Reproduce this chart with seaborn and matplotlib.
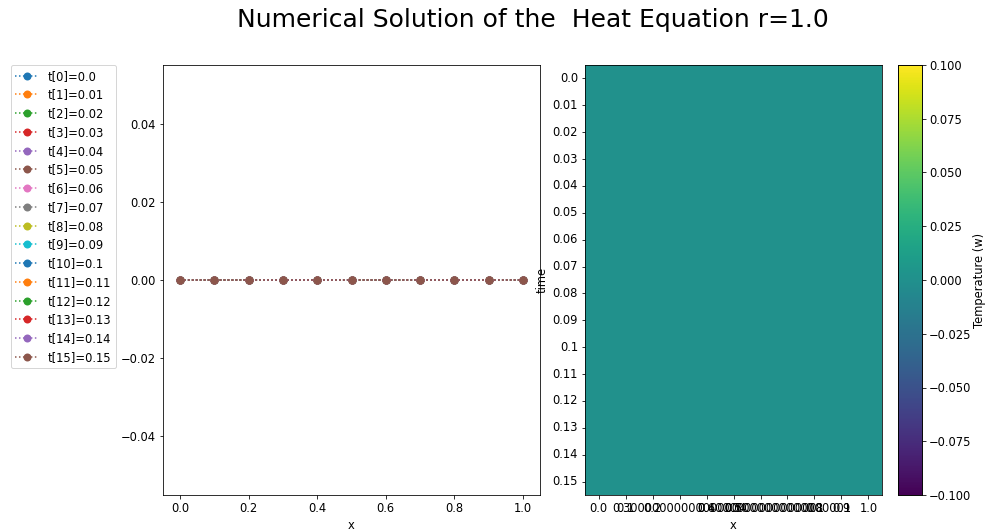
import numpy as np
import pandas as pd
import matplotlib
matplotlib.use("Agg")
import matplotlib.pyplot as plt
import seaborn as sns

# Data
x_vals = [0.0, 0.1, 0.2, 0.30000000000000004, 0.4, 0.5, 0.6000000000000001,
          0.7000000000000001, 0.8, 0.9, 1.0]
t_vals = [0.0, 0.01, 0.02, 0.03, 0.04, 0.05, 0.06, 0.07, 0.08, 0.09, 0.1,
          0.11, 0.12, 0.13, 0.14, 0.15]
# temperature w[t][x] (all zero)
w = [[0.0] * len(x_vals) for _ in t_vals]
r_value = 1.0

FS = 11.5
plt.rcParams['font.family'] = ['DejaVu Sans']
plt.rcParams['font.size'] = FS
fig = plt.figure(figsize=(985 / 72, 531 / 72), dpi=72)

ax1 = fig.add_axes([163 / 985, 1 - 495 / 531, (540 - 163) / 985, (495 - 65) / 531])
ax2 = fig.add_axes([585 / 985, 1 - 495 / 531, (882 - 585) / 985, (495 - 65) / 531])
cax = fig.add_axes([898 / 985, 1 - 495 / 531, 24 / 985, (495 - 65) / 531])

palette = plt.rcParams['axes.prop_cycle'].by_key()['color']
for i, t in enumerate(t_vals):
    sns.lineplot(x=x_vals, y=w[i], ax=ax1, marker='o', linestyle=':',
                 color=palette[i % len(palette)], label=f"t[{i}]={t}",
                 markeredgewidth=0, markersize=8)
ax1.set_xlabel('x', fontsize=FS)
ax1.set_ylim(-0.055, 0.055)
ax1.set_yticks([-0.04, -0.02, 0.0, 0.02, 0.04])
ax1.tick_params(axis='both', labelsize=FS)
ax1.legend(loc='upper right', bbox_to_anchor=(-0.125, 1.0), borderaxespad=0,
           fontsize=FS)

df = pd.DataFrame(w, index=t_vals, columns=x_vals)
sns.heatmap(df, ax=ax2, cmap='viridis', vmin=-0.1, vmax=0.1, cbar_ax=cax,
            xticklabels=[str(v) for v in x_vals],
            yticklabels=[str(v) for v in t_vals],
            cbar_kws={'label': 'Temperature (w)'})
ax2.set_xlabel('x', fontsize=FS)
ax2.set_ylabel('time', fontsize=FS)
ax2.tick_params(axis='both', length=3.5, labelsize=FS)
plt.setp(ax2.get_yticklabels(), rotation=0)
plt.setp(ax2.get_xticklabels(), rotation=0)
for s in ax2.spines.values():
    s.set_visible(True)
    s.set_linewidth(0.8)
cax.set_yticks([-0.1, -0.075, -0.05, -0.025, 0.0, 0.025, 0.05, 0.075, 0.1])
cax.set_yticklabels(['\u22120.100', '\u22120.075', '\u22120.050', '\u22120.025',
                     '0.000', '0.025', '0.050', '0.075', '0.100'])
cax.tick_params(length=3.5, labelsize=FS)
cax.set_ylabel('Temperature (w)', fontsize=FS, labelpad=1)
for s in cax.spines.values():
    s.set_visible(True)
    s.set_linewidth(0.8)

fig.text(533 / 985, 1 - 20 / 531, f"Numerical Solution of the  Heat Equation r={r_value}",
         ha='center', va='center', fontsize=25)

fig.savefig('out.png', dpi=72)
